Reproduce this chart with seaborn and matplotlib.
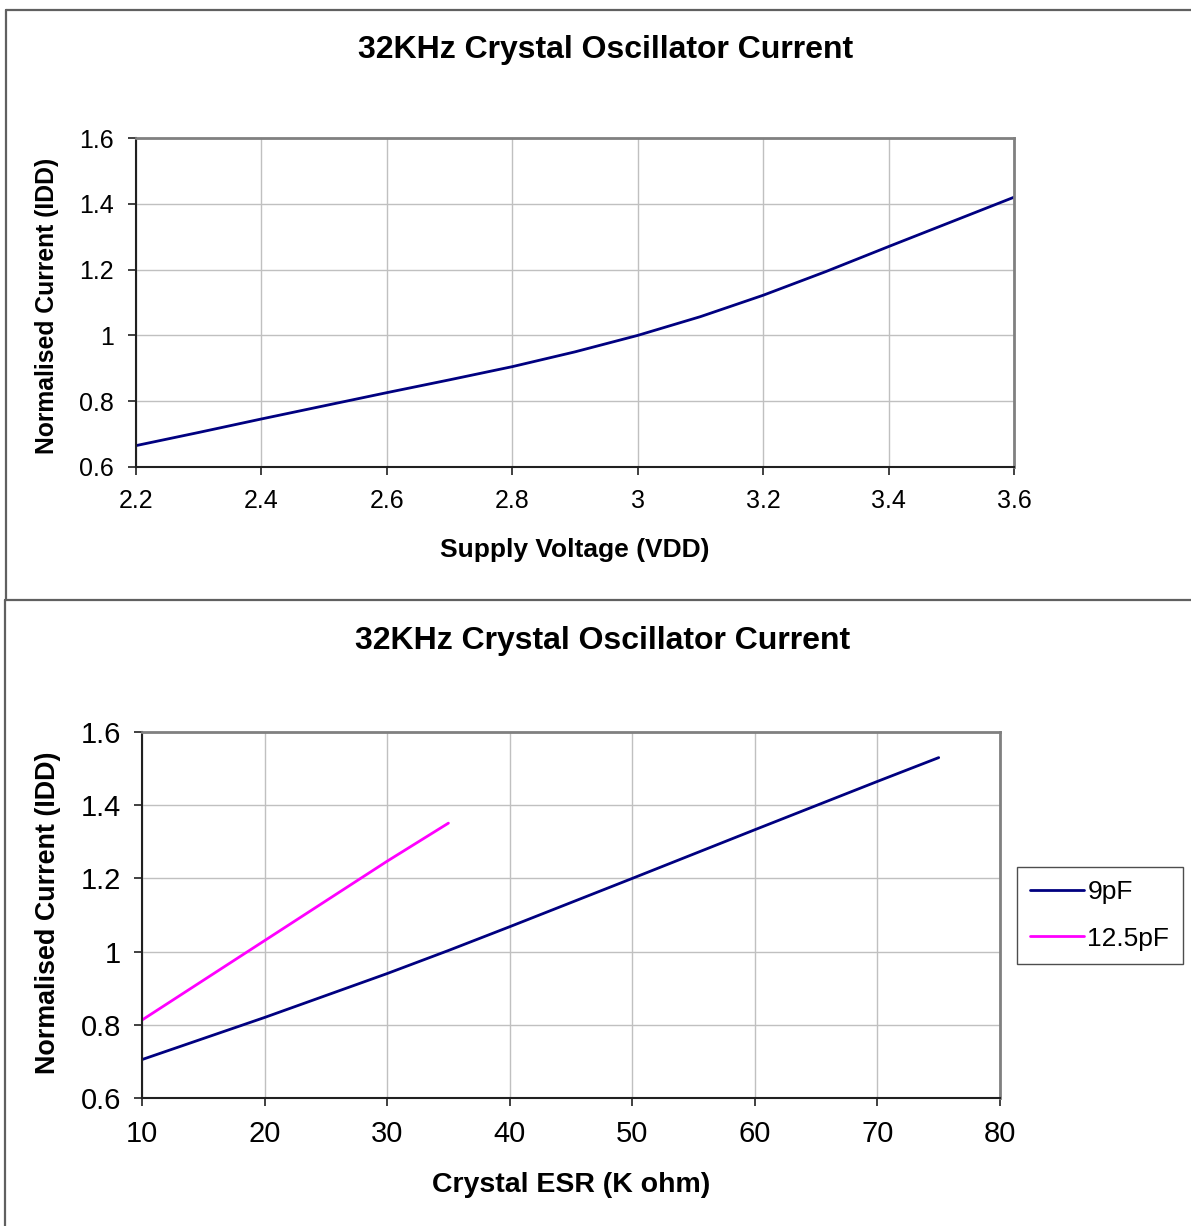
import matplotlib
matplotlib.use('Agg')
import numpy as np
import pandas as pd
import seaborn as sns
import matplotlib.pyplot as plt
from matplotlib.lines import Line2D

# Top chart: current vs supply voltage
vdd = [2.2, 2.3, 2.4, 2.5, 2.6, 2.7, 2.8, 2.9, 3.0, 3.1, 3.2, 3.3, 3.4, 3.5, 3.6]
idd_vdd = [0.665, 0.705, 0.746, 0.786, 0.826, 0.865, 0.905, 0.950, 1.0,
           1.057, 1.122, 1.194, 1.270, 1.345, 1.42]

# Bottom chart: current vs crystal ESR
esr_9pf = [10, 20, 30, 35, 40, 50, 60, 70, 75]
idd_9pf = [0.705, 0.82, 0.94, 1.003, 1.068, 1.2, 1.333, 1.465, 1.53]
esr_12pf = [10, 20, 30, 35]
idd_12pf = [0.813, 1.03, 1.247, 1.351]

TITLE = '32KHz Crystal Oscillator Current'

sns.set_style('white')
plt.rcParams['font.family'] = ['Liberation Sans', 'DejaVu Sans']
plt.rcParams['text.color'] = 'black'
plt.rcParams['axes.labelcolor'] = 'black'
plt.rcParams['xtick.color'] = 'black'
plt.rcParams['ytick.color'] = 'black'

W, H = 1191, 1226
fig = plt.figure(figsize=(W / 100, H / 100), dpi=100)


def fx(px):
    return px / W


def fy(py):
    return 1 - py / H


def style_axes(ax, tick_size, xpad, ypad):
    ax.grid(True, color='#c0c0c0', linewidth=1)
    ax.set_axisbelow(True)
    for side in ['top', 'right']:
        ax.spines[side].set_color('#808080')
        ax.spines[side].set_linewidth(2)
    for side in ['left', 'bottom']:
        ax.spines[side].set_color('#202020')
        ax.spines[side].set_linewidth(1.5)
    ax.tick_params(axis='both', which='both', direction='out', length=6,
                   width=1.2, color='#202020', labelsize=tick_size,
                   left=True, bottom=True)
    ax.tick_params(axis='x', pad=xpad)
    ax.tick_params(axis='y', pad=ypad)


# panel borders
for (x0, y0, x1, y1) in [(6, 10, W, 10), (6, 10, 6, 600), (5, 600, W, 600), (5, 600, 5, H)]:
    fig.add_artist(Line2D([fx(x0), fx(x1)], [fy(y0), fy(y1)], color='#606060',
                          linewidth=1.6, transform=fig.transFigure))

# top chart
ax1 = fig.add_axes([fx(136), fy(467), fx(1014) - fx(136), fy(138) - fy(467)])
df1 = pd.DataFrame({'vdd': vdd, 'idd': idd_vdd})
sns.lineplot(data=df1, x='vdd', y='idd', ax=ax1, color='#000080', linewidth=2)
ax1.set_xlim(2.2, 3.6)
ax1.set_ylim(0.6, 1.6)
ax1.set_xticks(np.arange(2.2, 3.61, 0.2))
ax1.set_xticklabels(['2.2', '2.4', '2.6', '2.8', '3', '3.2', '3.4', '3.6'])
ax1.set_yticks([0.6, 0.8, 1.0, 1.2, 1.4, 1.6])
ax1.set_yticklabels(['0.6', '0.8', '1', '1.2', '1.4', '1.6'])
style_axes(ax1, 18, 10, 10)
ax1.set_xlabel('Supply Voltage (VDD)', fontsize=19, fontweight='bold')
ax1.set_ylabel('Normalised Current (IDD)', fontsize=17.8, fontweight='bold')
ax1.xaxis.set_label_coords(0.5, -0.252)
ax1.xaxis.label.set_va('center')
ax1.yaxis.set_label_coords(-0.101, 0.489)
ax1.yaxis.label.set_va('center')
fig.text(fx(606), fy(50), TITLE, ha='center', va='center', fontsize=23, fontweight='bold')

# bottom chart
ax2 = fig.add_axes([fx(142), fy(1098), fx(1000) - fx(142), fy(732) - fy(1098)])
df2 = pd.concat([
    pd.DataFrame({'esr': esr_9pf, 'idd': idd_9pf, 'cap': '9pF'}),
    pd.DataFrame({'esr': esr_12pf, 'idd': idd_12pf, 'cap': '12.5pF'}),
])
sns.lineplot(data=df2, x='esr', y='idd', hue='cap', ax=ax2,
             palette={'9pF': '#000080', '12.5pF': '#ff00ff'}, linewidth=2)
ax2.set_xlim(10, 80)
ax2.set_ylim(0.6, 1.6)
ax2.set_xticks(range(10, 81, 10))
ax2.set_yticks([0.6, 0.8, 1.0, 1.2, 1.4, 1.6])
ax2.set_yticklabels(['0.6', '0.8', '1', '1.2', '1.4', '1.6'])
style_axes(ax2, 21, 10, 9)
ax2.set_xlabel('Crystal ESR (K ohm)', fontsize=20.5, fontweight='bold')
ax2.set_ylabel('Normalised Current (IDD)', fontsize=19.4, fontweight='bold')
ax2.xaxis.set_label_coords(0.5, -0.238)
ax2.xaxis.label.set_va('center')
ax2.yaxis.set_label_coords(-0.1096, 0.505)
ax2.yaxis.label.set_va('center')
fig.text(fx(603), fy(641), TITLE, ha='center', va='center', fontsize=23, fontweight='bold')

handles, labels = ax2.get_legend_handles_labels()
ax2.get_legend().remove()
leg = fig.legend(handles, labels, loc='upper left',
                 bbox_to_anchor=(fx(1017), fy(867)), bbox_transform=fig.transFigure,
                 fontsize=19, frameon=True, fancybox=False, handlelength=2.05,
                 handletextpad=0.12, borderpad=0.5, labelspacing=0.85,
                 borderaxespad=0)
leg.get_frame().set_edgecolor('#202020')
leg.get_frame().set_linewidth(1)

fig.savefig('out.png', dpi=100)
